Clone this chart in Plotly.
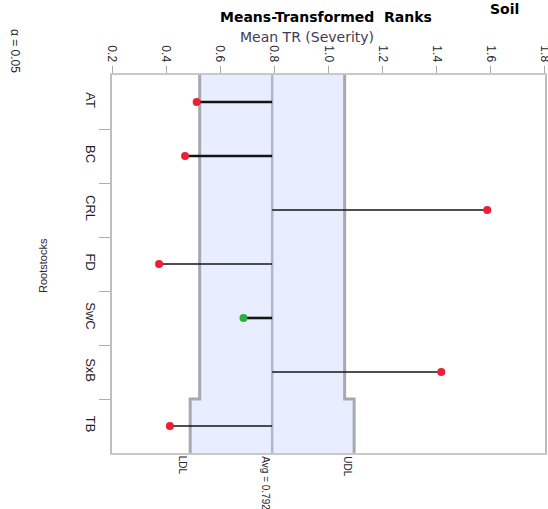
import plotly.graph_objects as go

# Analysis-of-means chart: mean transformed rank of severity per rootstock
rootstocks = ["AT", "BC", "CRL", "FD", "SwC", "SxB", "TB"]
mean_tr = [0.513, 0.470, 1.587, 0.374, 0.686, 1.417, 0.414]
avg_tr = 0.792
ldl = [0.524, 0.524, 0.524, 0.524, 0.524, 0.524, 0.489]
udl = [1.060, 1.060, 1.060, 1.060, 1.060, 1.060, 1.095]
x_ticks = [0.2, 0.4, 0.6, 0.8, 1.0, 1.2, 1.4, 1.6, 1.8]
x_tick_labels = ["0.2", "0.4", "0.6", "0.8", "1.0", "1.2", "1.4", "1.6", "1.8"]

thick_rows = {"AT", "BC", "SwC"}
FONT = "Liberation Sans"

idx = list(range(len(rootstocks)))

# step outlines of the decision limits
def step(vals):
    xs, ys = [], []
    for i, v in zip(idx, vals):
        xs += [v, v]
        ys += [i - 0.5, i + 0.5]
    return xs, ys

lx, ly = step(ldl)
ux, uy = step(udl)

fig = go.Figure()

# shaded band between LDL and UDL
fig.add_trace(go.Scatter(
    x=lx + ux[::-1], y=ly + uy[::-1], fill="toself",
    fillcolor="rgb(232,238,255)", line=dict(width=0),
    mode="lines", hoverinfo="skip", showlegend=False))
for xs, ys in ((lx, ly), (ux, uy)):
    fig.add_trace(go.Scatter(
        x=xs, y=ys, mode="lines",
        line=dict(color="rgb(168,168,176)", width=3),
        hoverinfo="skip", showlegend=False))

# center line at the overall average
fig.add_trace(go.Scatter(
    x=[avg_tr, avg_tr], y=[-0.5, len(rootstocks) - 0.5], mode="lines",
    line=dict(color="rgb(178,182,202)", width=2.5),
    hoverinfo="skip", showlegend=False))

# stems from the average to each mean
for width, keep in ((2.6, True), (1.3, False)):
    sx, sy = [], []
    for i, name, m in zip(idx, rootstocks, mean_tr):
        if (name in thick_rows) == keep:
            sx += [avg_tr, m, None]
            sy += [i, i, None]
    fig.add_trace(go.Scatter(
        x=sx, y=sy, mode="lines", line=dict(color="rgb(20,20,20)", width=width),
        hoverinfo="skip", showlegend=False))

# mean markers: red outside the limits, green inside
colors = ["rgb(40,175,60)" if lo <= m <= hi else "rgb(238,30,55)"
          for m, lo, hi in zip(mean_tr, ldl, udl)]
fig.add_trace(go.Scatter(
    x=mean_tr, y=idx, yaxis="y2", mode="markers",
    marker=dict(color=colors, size=8, line=dict(width=0)),
    showlegend=False))

n = len(rootstocks)
fig.update_layout(
    width=548, height=509,
    margin=dict(l=112, r=3, t=75, b=56),
    paper_bgcolor="white", plot_bgcolor="white",
    xaxis=dict(
        side="top", range=[0.2, 1.8005], tickvals=x_ticks, ticktext=x_tick_labels,
        tickangle=90, ticks="outside", ticklen=7, tickcolor="rgb(170,170,170)",
        ticklabeloverflow="allow", automargin=False,
        tickfont=dict(family=FONT, size=12, color="rgb(40,40,50)"),
        showgrid=False, zeroline=False, showline=True, mirror=True,
        linecolor="rgb(200,200,200)", linewidth=1.5),
    yaxis=dict(
        range=[n - 0.5, -0.5], tickvals=[i + 0.5 for i in idx[:-1]],
        showticklabels=False, ticks="outside", ticklen=11, automargin=False,
        tickcolor="rgb(175,175,175)", showgrid=False, zeroline=False,
        showline=True, mirror=True, linecolor="rgb(190,190,190)", linewidth=2),
    yaxis2=dict(
        overlaying="y", side="left", range=[n - 0.5, -0.5],
        tickvals=idx, ticktext=rootstocks, tickangle=90, ticks="",
        ticklabelstandoff=12, automargin=False,
        tickfont=dict(family=FONT, size=13, color="rgb(30,30,40)"),
        showgrid=False, zeroline=False, showline=False),
)

def px(x):
    return (x - 112) / 433

def py(y):
    return (453 - y) / 378

annotations = [
    dict(text="<b>Soil</b>", x=px(488), y=py(9), xanchor="left", yanchor="middle",
         font=dict(family="DejaVu Sans", size=14, color="black")),
    dict(text="<b>Means-Transformed  Ranks</b>", x=px(326), y=py(17),
         xanchor="center", yanchor="middle",
         font=dict(family="DejaVu Sans", size=14, color="black")),
    dict(text="Mean TR (Severity)", x=px(307), y=py(37),
         xanchor="center", yanchor="middle",
         font=dict(family="DejaVu Sans", size=14, color="rgb(60,60,90)")),
    dict(text="α = 0.05", x=px(15), y=py(27), xanchor="center", yanchor="top",
         textangle=90, font=dict(family=FONT, size=12, color="rgb(40,40,50)")),
    dict(text="Rootstocks", x=px(43), y=py(266), xanchor="center", yanchor="middle",
         textangle=-90, font=dict(family=FONT, size=11, color="rgb(40,40,50)")),
]
for label, xv in (("LDL", ldl[-1]), ("Avg = 0.792", avg_tr), ("UDL", udl[-1])):
    annotations.append(dict(
        text=label, x=xv, xref="x", y=py(454), yanchor="top", xanchor="right",
        textangle=90, font=dict(family=FONT, size=10, color="rgb(40,40,50)")))
for a in annotations:
    a.setdefault("xref", "paper")
    a["yref"] = "paper"
    a["showarrow"] = False
fig.update_layout(annotations=annotations)

fig.write_html("out.html")
